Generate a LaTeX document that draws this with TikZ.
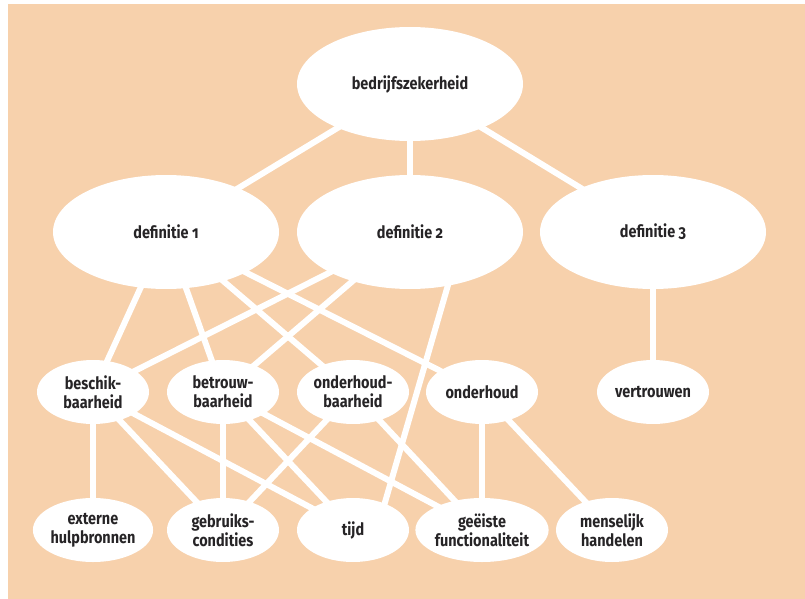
\documentclass[tikz,border=0pt]{standalone}
\usepackage{fontspec}
\setmainfont[Numbers=OldStyle,FakeStretch=0.85]{Fira Sans}
\usetikzlibrary{shapes.geometric}
\definecolor{peach}{RGB}{247,209,172}
\definecolor{ink}{RGB}{38,36,38}
\pgfdeclarelayer{bg}
\pgfdeclarelayer{edges}
\pgfsetlayers{bg,edges,main}
\begin{document}
\begin{tikzpicture}[x=1pt,y=-1pt,
  concept/.style={ellipse, fill=white, inner sep=0pt, text=ink, align=center,
                  font=\bfseries\fontsize{17}{19}\selectfont},
  big/.style={concept, minimum width=226pt, minimum height=114pt},
  small/.style={concept, minimum width=112pt, minimum height=64pt},
  link/.style={draw=white, line width=6pt}]
\useasboundingbox (0,0) rectangle (805,599);
\begin{pgfonlayer}{bg}
  \fill[peach] (8,4) rectangle (805,599);
\end{pgfonlayer}

% top level
\node[big] (top) at (410,84) {bedrijfszekerheid};
% definitions
\node[big] (d1) at (166,232) {definitie 1};
\node[big] (d2) at (410,232) {definitie 2};
\node[big] (d3) at (653,232) {definitie 3};
% properties
\node[small] (besch) at (93,392)  {beschik-\\baarheid};
\node[small] (betr)  at (223,392) {betrouw-\\baarheid};
\node[small] (ohb)   at (353,392) {onderhoud-\\baarheid};
\node[small] (oh)    at (482,392) {onderhoud};
\node[small] (vertr) at (653,392) {vertrouwen};
% factors
\node[small] (ext)   at (93,530)  {externe\\hulpbronnen};
\node[small] (gebr)  at (223,530) {gebruiks-\\condities};
\node[small] (tijd)  at (353,530) {tijd};
\node[small] (func)  at (482,530) {geëiste\\functionaliteit};
\node[small] (mens)  at (612,530) {menselijk\\handelen};

\begin{pgfonlayer}{edges}
  \draw[link] (top.center) -- (d1.center);
  \draw[link] (top.center) -- (d2.center);
  \draw[link] (top.center) -- (d3.center);
  \draw[link] (d1.center) -- (besch.center);
  \draw[link] (d1.center) -- (betr.center);
  \draw[link] (d1.center) -- (ohb.center);
  \draw[link] (d1.center) -- (oh.center);
  \draw[link] (d2.center) -- (besch.center);
  \draw[link] (d2.center) -- (betr.center);
  \draw[link, shorten <=-8pt, shorten >=-8pt] (d2.-55) -- (tijd.40);
  \draw[link] (d3.center) -- (vertr.center);
  \draw[link] (besch.center) -- (ext.center);
  \draw[link] (besch.center) -- (gebr.center);
  \draw[link] (besch.center) -- (tijd.center);
  \draw[link] (betr.center) -- (gebr.center);
  \draw[link] (betr.center) -- (tijd.center);
  \draw[link] (betr.center) -- (func.center);
  \draw[link] (ohb.center) -- (gebr.center);
  \draw[link] (ohb.center) -- (func.center);
  \draw[link] (oh.center) -- (func.center);
  \draw[link] (oh.center) -- (mens.center);
\end{pgfonlayer}
\end{tikzpicture}
\end{document}
